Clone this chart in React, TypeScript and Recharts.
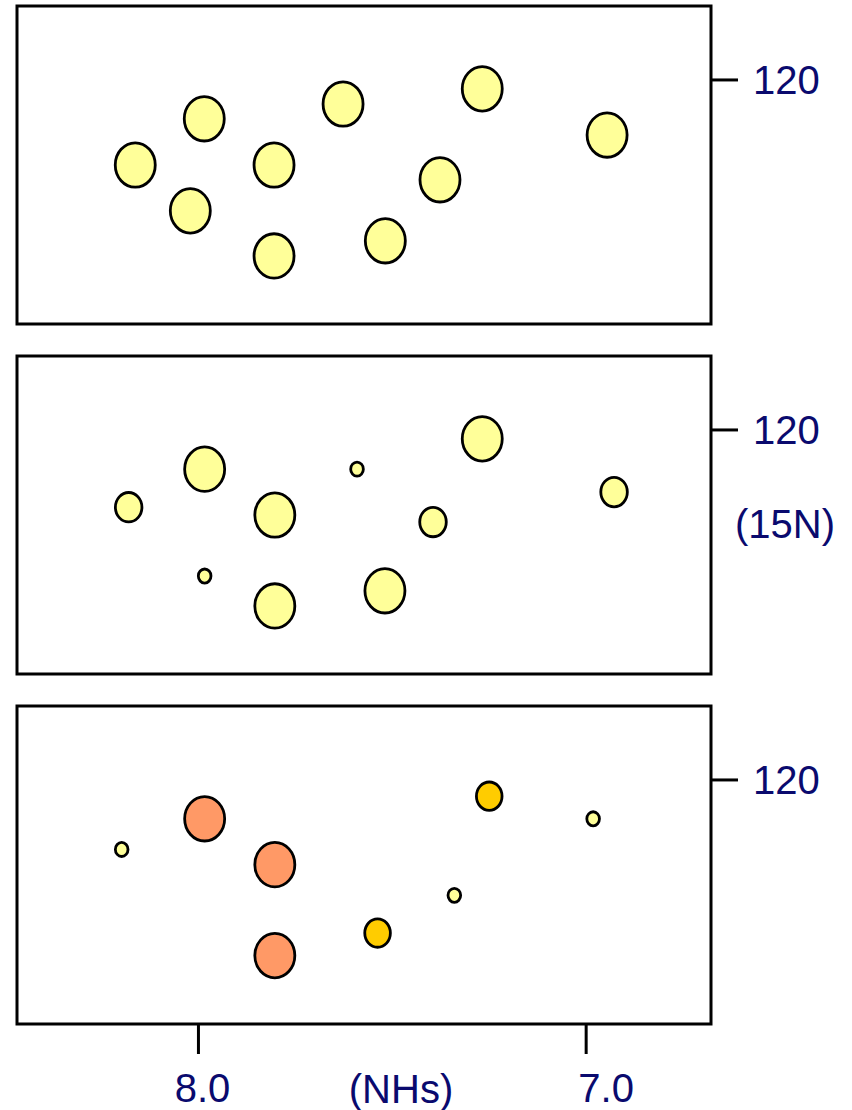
import React from "react";
import { ScatterChart, Scatter, XAxis, YAxis, ZAxis, ReferenceArea } from "recharts";

// peaks: x = 1H shift (ppm), y = 15N shift (ppm), z = relative intensity
const freePeaks = [
    { x: 8.163, y: 122.30, z: 1 },
    { x: 7.985, y: 121.05, z: 1 },
    { x: 8.021, y: 123.54, z: 1 },
    { x: 7.805, y: 122.30, z: 1 },
    { x: 7.805, y: 124.76, z: 1 },
    { x: 7.627, y: 120.65, z: 1 },
    { x: 7.518, y: 124.35, z: 1 },
    { x: 7.377, y: 122.70, z: 1 },
    { x: 7.268, y: 120.24, z: 1 },
    { x: 6.946, y: 121.49, z: 1 },
];

const partialPeaks = [
    { x: 7.984, y: 121.06, z: 1 },
    { x: 7.268, y: 120.24, z: 1 },
    { x: 7.803, y: 122.30, z: 1 },
    { x: 7.803, y: 124.76, z: 1 },
    { x: 7.519, y: 124.35, z: 1 },
    { x: 8.180, y: 122.09, z: 0.44 },
    { x: 7.395, y: 122.49, z: 0.44 },
    { x: 6.928, y: 121.68, z: 0.44 },
    { x: 7.591, y: 121.06, z: 0.1 },
    { x: 7.984, y: 123.95, z: 0.1 },
];

const boundWeak = [
    { x: 8.198, y: 121.88, z: 0.1 },
    { x: 7.340, y: 123.12, z: 0.1 },
    { x: 6.982, y: 121.05, z: 0.1 },
];

const boundMedium = [
    { x: 7.250, y: 120.44, z: 0.41 },
    { x: 7.538, y: 124.14, z: 0.41 },
];

const boundStrong = [
    { x: 7.984, y: 121.05, z: 1 },
    { x: 7.803, y: 122.29, z: 1 },
    { x: 7.803, y: 124.75, z: 1 },
];

const xTicks = [8.0, 7.0];
const yTicks = [120];
const xTitle = "(NHs)";
const yTitle = "(15N)";

const X_DOMAIN: [number, number] = [6.678, 8.468];
const Y_DOMAIN: [number, number] = [118, 126.6];

const NAVY = "#0a0a6e";
const FONT = "'Liberation Sans', Arial, sans-serif";
const FONT_SIZE = 40;
const YELLOW = "#ffff99";
const GOLD = "#ffcc00";
const SALMON = "#ff9966";

// per-label horizontal nudge of the x tick labels
const xLabelShift: Record<string, number> = { "8.0": 4, "7.0": 20 };

const Peak = (props: any) => {
    const { cx, cy, width, size, fill } = props;
    if (cx == null || cy == null) return null;
    const r = width ? width / 2 : Math.sqrt((size || 0) / Math.PI);
    return (
        <ellipse
            cx={cx}
            cy={cy}
            rx={r}
            ry={r * 1.11}
            fill={fill}
            stroke="#000"
            strokeWidth={2.8}
        />
    );
};

const XTick = (props: any) => {
    const { x, y, payload } = props;
    const label = Number(payload.value).toFixed(1);
    return (
        <text
            x={x + (xLabelShift[label] || 0)}
            y={y}
            dy="0.71em"
            textAnchor="middle"
            fill={NAVY}
            fontSize={FONT_SIZE}
            fontFamily={FONT}
        >
            {label}
        </text>
    );
};

const renderXTitle = (props: any) => {
    const vb = props.viewBox;
    return (
        <text
            x={vb.x + vb.width / 2 + 37}
            y={vb.y + 51}
            dy="0.71em"
            textAnchor="middle"
            fill={NAVY}
            fontSize={FONT_SIZE}
            fontFamily={FONT}
        >
            {xTitle}
        </text>
    );
};

const renderYTitle = (props: any) => {
    const vb = props.viewBox;
    return (
        <text
            x={vb.x + 24}
            y={vb.y + vb.height / 2 + 23}
            textAnchor="start"
            fill={NAVY}
            fontSize={FONT_SIZE}
            fontFamily={FONT}
        >
            {yTitle}
        </text>
    );
};

interface SeriesDef {
    data: { x: number, y: number, z: number }[],
    fill: string
}

interface PanelProps {
    series: SeriesDef[],
    showX?: boolean,
    showYTitle?: boolean
}

const Panel: React.FC<PanelProps> = ({ series, showX, showYTitle }) => {
    return (
        <ScatterChart
            width={852}
            height={showX ? 410 : 350}
            margin={{ top: 6, right: 0, left: 17, bottom: showX ? 0 : 26 }}
        >
            <XAxis
                type="number"
                dataKey="x"
                domain={X_DOMAIN}
                allowDataOverflow
                reversed
                ticks={xTicks}
                hide={!showX}
                height={86}
                axisLine={false}
                tickLine={{ stroke: "#000", strokeWidth: 3 }}
                tickSize={30}
                tickMargin={20}
                tick={<XTick />}
                label={showX ? renderXTitle : undefined}
            />
            <YAxis
                type="number"
                dataKey="y"
                orientation="right"
                domain={Y_DOMAIN}
                allowDataOverflow
                reversed
                ticks={yTicks}
                width={141}
                axisLine={false}
                tickLine={{ stroke: "#000", strokeWidth: 3 }}
                tickSize={27}
                tickMargin={15}
                tick={{ fill: NAVY, fontSize: FONT_SIZE, fontFamily: FONT }}
                label={showYTitle ? renderYTitle : undefined}
            />
            <ZAxis type="number" dataKey="z" domain={[0, 1]} range={[0, 1257]} />
            <ReferenceArea
                x1={X_DOMAIN[0]}
                x2={X_DOMAIN[1]}
                y1={Y_DOMAIN[0]}
                y2={Y_DOMAIN[1]}
                fill="none"
                fillOpacity={0}
                stroke="#000"
                strokeWidth={3}
                ifOverflow="visible"
            />
            {series.map((s, i) => (
                <Scatter
                    key={i}
                    data={s.data}
                    fill={s.fill}
                    shape={Peak}
                    isAnimationActive={false}
                />
            ))}
        </ScatterChart>
    );
};

export default function App() {
    return (
        <div style={{ position: "absolute", left: 0, top: 0, width: 852, height: 1110, background: "#fff" }}>
            <Panel series={[{ data: freePeaks, fill: YELLOW }]} />
            <Panel series={[{ data: partialPeaks, fill: YELLOW }]} showYTitle />
            <Panel
                series={[
                    { data: boundWeak, fill: YELLOW },
                    { data: boundMedium, fill: GOLD },
                    { data: boundStrong, fill: SALMON },
                ]}
                showX
            />
        </div>
    );
}
